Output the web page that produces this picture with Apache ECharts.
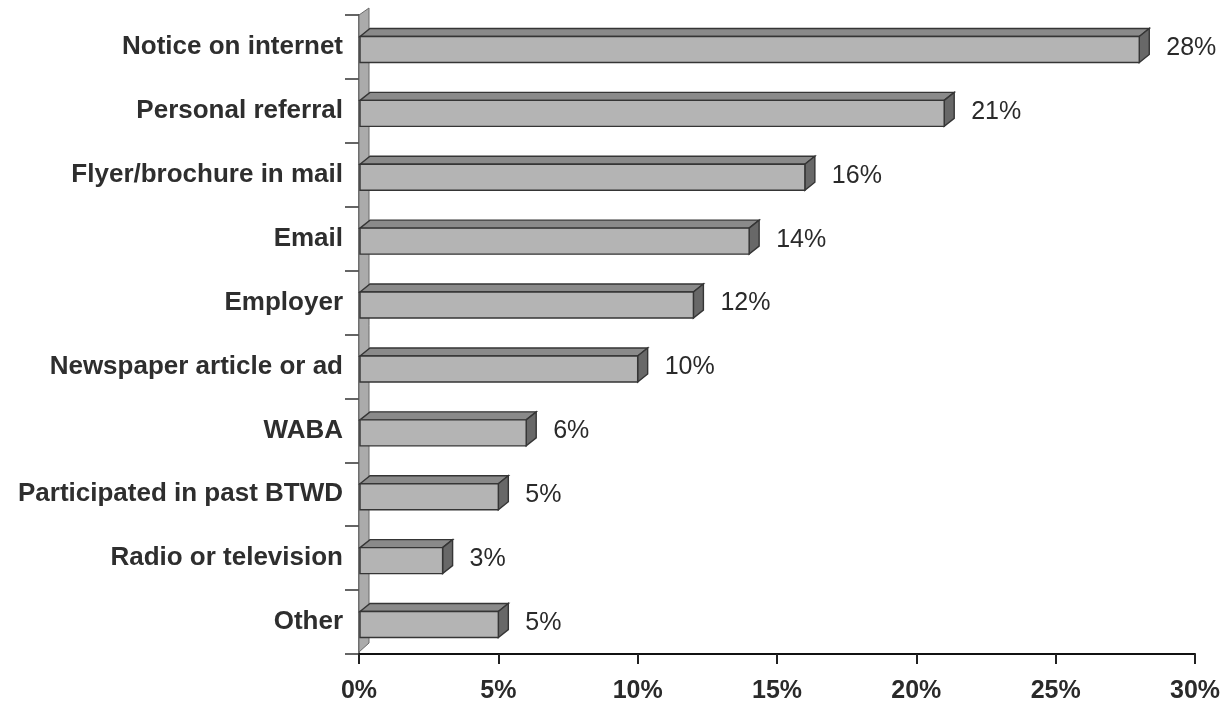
<!DOCTYPE html>
<html>
<head>
<meta charset="utf-8">
<script src="https://cdn.jsdelivr.net/npm/echarts@6/dist/echarts.min.js"></script>
<style>
  html, body { margin: 0; padding: 0; background: #ffffff; }
  #chart { width: 1227px; height: 706px; }
</style>
</head>
<body>
<div id="chart"></div>
<script>
// Survey: how respondents heard about the event (percent of responses)
const categories = [
  'Notice on internet',
  'Personal referral',
  'Flyer/brochure in mail',
  'Email',
  'Employer',
  'Newspaper article or ad',
  'WABA',
  'Participated in past BTWD',
  'Radio or television',
  'Other'
];
const percentages = [28, 21, 16, 14, 12, 10, 6, 5, 3, 5];
const tickValues = [0, 5, 10, 15, 20, 25, 30];

const FONT = "'Liberation Sans', Arial, Helvetica, sans-serif";
const DEPTH_X = 10;   // 3D extrusion toward the back wall
const DEPTH_Y = -8;
const FACE_H = 26;    // height of each bar's front face

const chart = echarts.init(document.getElementById('chart'), null, { renderer: 'canvas' });

// Back wall along the category axis
function renderWall(params, api) {
  const cs = params.coordSys;
  const x = cs.x, y = cs.y, h = cs.height;
  return {
    type: 'polygon',
    shape: {
      points: [
        [x, y + h - 2],
        [x, y],
        [x + DEPTH_X, y + DEPTH_Y + 1],
        [x + DEPTH_X, y + h - 11]
      ]
    },
    style: { fill: '#ababab', stroke: '#6a6a6a', lineWidth: 1 },
    z2: 0
  };
}

// Extruded bar: front face, top face and right side face, plus value text
function renderBar(params, api) {
  const value = api.value(0);
  const idx = api.value(1);
  const start = api.coord([0, idx]);
  const end = api.coord([value, idx]);
  const yc = start[1] + 2.5;
  const top = yc - FACE_H / 2;
  const bot = yc + FACE_H / 2;
  const x0 = start[0] + 1;
  const x1 = end[0];
  const edge = '#353535';
  return {
    type: 'group',
    children: [
      {
        type: 'polygon',
        shape: { points: [[x0, top], [x0 + DEPTH_X, top + DEPTH_Y], [x1 + DEPTH_X, top + DEPTH_Y], [x1, top]] },
        style: { fill: '#8a8a8a', stroke: edge, lineWidth: 1.4 }
      },
      {
        type: 'polygon',
        shape: { points: [[x1, top], [x1 + DEPTH_X, top + DEPTH_Y], [x1 + DEPTH_X, bot + DEPTH_Y], [x1, bot]] },
        style: { fill: '#686868', stroke: edge, lineWidth: 1.4 }
      },
      {
        type: 'rect',
        shape: { x: x0, y: top, width: x1 - x0, height: FACE_H },
        style: { fill: '#b4b4b4', stroke: edge, lineWidth: 1.4 }
      },
      {
        type: 'text',
        style: {
          text: value + '%',
          x: x1 + DEPTH_X + 17,
          y: start[1] + 1,
          fill: '#2a2a2a',
          font: '25px ' + FONT,
          verticalAlign: 'middle',
          align: 'left'
        }
      }
    ]
  };
}

const barData = percentages.map((v, i) => [v, i]);

chart.setOption({
  backgroundColor: '#ffffff',
  animation: false,
  grid: { left: 359, top: 15, width: 836, height: 639, containLabel: false },
  xAxis: {
    type: 'value',
    min: tickValues[0],
    max: tickValues[tickValues.length - 1],
    interval: 5,
    splitLine: { show: false },
    axisLine: { show: true, lineStyle: { color: '#111', width: 2 } },
    axisTick: { show: true, length: 10, lineStyle: { color: '#222', width: 2 } },
    axisLabel: {
      margin: 25,
      fontFamily: FONT,
      fontSize: 25,
      fontWeight: 'bold',
      color: '#2a2a2a',
      formatter: '{value}%'
    }
  },
  yAxis: {
    type: 'category',
    data: categories,
    inverse: true,
    axisLine: { show: true, lineStyle: { color: '#444', width: 1.5 } },
    axisTick: { show: true, length: 14, lineStyle: { color: '#333', width: 1.5 } },
    axisLabel: {
      margin: 16,
      fontFamily: FONT,
      fontSize: 26,
      fontWeight: 'bold',
      color: '#2e2e2e'
    }
  },
  series: [
    {
      type: 'custom',
      renderItem: renderWall,
      data: [[0, 0]],
      encode: { x: 0, y: 1 },
      silent: true,
      z: 1
    },
    {
      type: 'custom',
      renderItem: renderBar,
      data: barData,
      encode: { x: 0, y: 1 },
      z: 2
    }
  ]
});
</script>
</body>
</html>
